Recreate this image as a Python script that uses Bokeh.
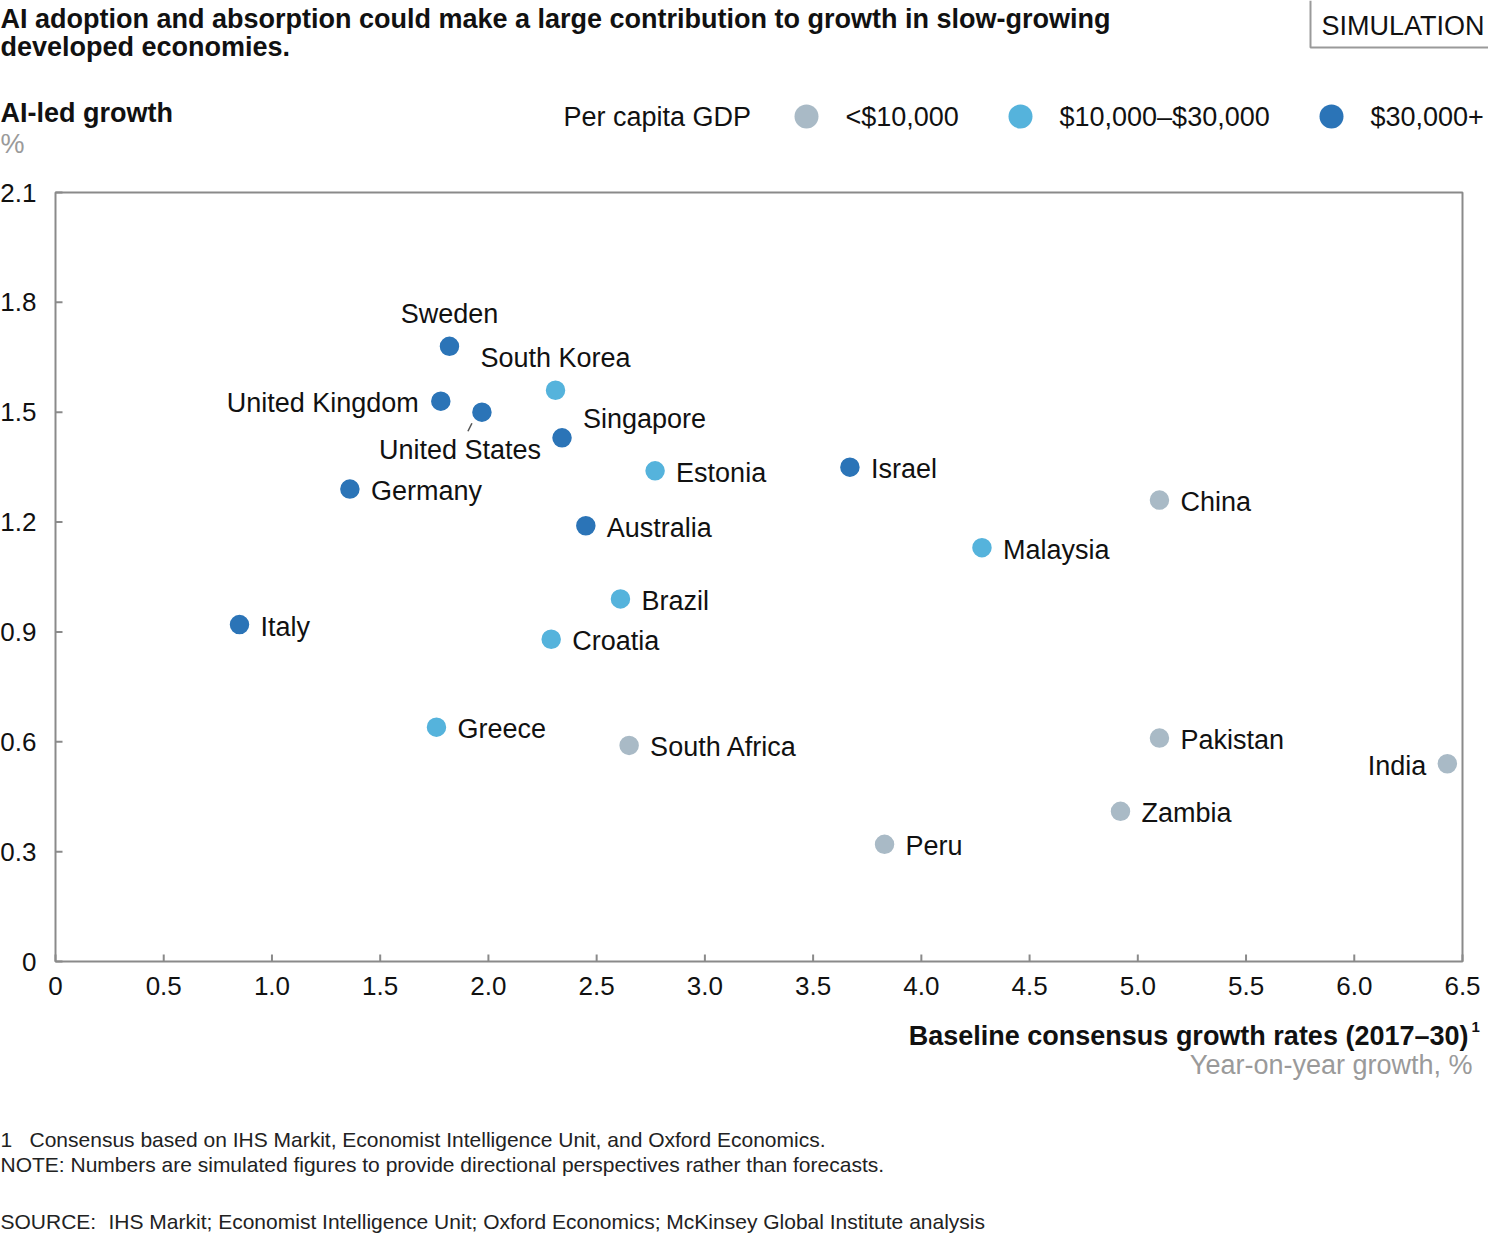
from bokeh.plotting import figure
from bokeh.models import ColumnDataSource, Range1d
from bokeh.core.properties import value, field
from bokeh.embed import file_html
from bokeh.resources import INLINE

# data
countries = ["Sweden", "South Korea", "United Kingdom", "United States", "Singapore",
             "Estonia", "Israel", "Germany", "China", "Australia", "Malaysia", "Brazil",
             "Italy", "Croatia", "Greece", "South Africa", "Pakistan", "India", "Zambia", "Peru"]
baseline_growth = [1.82, 2.31, 1.78, 1.97, 2.34, 2.77, 3.67, 1.36, 5.10, 2.45, 4.28, 2.61,
                   0.85, 2.29, 1.76, 2.65, 5.10, 6.43, 4.92, 3.83]
ai_growth = [1.68, 1.56, 1.53, 1.50, 1.43, 1.34, 1.35, 1.29, 1.26, 1.19, 1.13, 0.99,
             0.92, 0.88, 0.64, 0.59, 0.61, 0.54, 0.41, 0.32]
income_group = ["high", "mid", "high", "high", "high", "mid", "high", "high", "low", "high",
                "mid", "mid", "high", "mid", "mid", "low", "low", "low", "low", "low"]

groups = ["low", "mid", "high"]
group_labels = ["<$10,000", "$10,000–$30,000", "$30,000+"]
group_colors = ["#A9BAC6", "#55B3DC", "#2B74B7"]

x_ticks = [0, 0.5, 1.0, 1.5, 2.0, 2.5, 3.0, 3.5, 4.0, 4.5, 5.0, 5.5, 6.0, 6.5]
x_tick_labels = ["0", "0.5", "1.0", "1.5", "2.0", "2.5", "3.0", "3.5", "4.0", "4.5",
                 "5.0", "5.5", "6.0", "6.5"]
y_ticks = [0, 0.3, 0.6, 0.9, 1.2, 1.5, 1.8, 2.1]
y_tick_labels = ["0", "0.3", "0.6", "0.9", "1.2", "1.5", "1.8", "2.1"]

# label placement (align, dx, dy in px)
label_pos = {
    "Sweden": ("center", 0, -32),
    "South Korea": ("center", 0, -32),
    "United Kingdom": ("right", -22, 2),
    "United States": ("center", -22, 38),
    "Singapore": ("left", 21, -19),
    "India": ("right", -21, 2),
}

FONT = "Liberation Sans"
W, H = 1488, 1235
# where the plotting box sits on the canvas (px)
BOX_L, BOX_R, BOX_T, BOX_B = 55, 1462, 192, 961
X_MAX, Y_MAX = 6.5, 2.1
GRID = "#8a8a8a"
INK = "#111111"
GREY_TXT = "#9a9a9a"

# the frame covers the whole canvas; the ranges are chosen so that the
# data box 0..6.5 x 0..2.1 lands on BOX_*, leaving room for titles and notes
sx = (BOX_R - BOX_L) / X_MAX
sy = (BOX_B - BOX_T) / Y_MAX
x0 = -BOX_L / sx
y1 = Y_MAX + BOX_T / sy
p = figure(width=W, height=H, output_backend="svg", toolbar_location=None,
           x_range=Range1d(x0, x0 + W / sx), y_range=Range1d(y1 - H / sy, y1),
           x_axis_location=None, y_axis_location=None, min_border=0)
p.grid.visible = False
p.outline_line_color = None


def px(x):
    return x0 + x / sx


def py(y):
    return y1 - y / sy


def put(txt, x, y, size=27, bold=False, color=INK, align="left"):
    p.text(x=[px(x)], y=[py(y)], text=[txt], text_font=value(FONT),
           text_font_size=f"{size}px", text_font_style="bold" if bold else "normal",
           text_color=color, text_align=align, text_baseline="middle")


# plotting box and inward ticks
p.quad(left=[0], right=[X_MAX], bottom=[0], top=[Y_MAX], fill_color=None,
       line_color=GRID, line_width=2)
p.segment(x0=x_ticks, y0=[0] * len(x_ticks), x1=x_ticks, y1=[7 / sy] * len(x_ticks),
          line_color=GRID, line_width=2)
p.segment(x0=[0] * len(y_ticks), y0=y_ticks, x1=[7 / sx] * len(y_ticks), y1=y_ticks,
          line_color=GRID, line_width=2)
p.text(x=x_ticks, y=[0] * len(x_ticks), text=x_tick_labels, y_offset=24,
       text_align="center", text_baseline="middle", text_font=value(FONT),
       text_font_size="26px", text_color=INK)
p.text(x=[0] * len(y_ticks), y=y_ticks, text=y_tick_labels, x_offset=-19,
       text_align="right", text_baseline="middle", text_font=value(FONT),
       text_font_size="26px", text_color=INK)

# points
for g, col in zip(groups, group_colors):
    idx = [i for i, v in enumerate(income_group) if v == g]
    src = ColumnDataSource(dict(x=[baseline_growth[i] for i in idx],
                                y=[ai_growth[i] for i in idx]))
    p.scatter("x", "y", source=src, size=21, fill_color=col, line_color="white",
              line_width=1.5)

# country labels
aligns, dxs, dys = [], [], []
for c in countries:
    a, dx, dy = label_pos.get(c, ("left", 21, 2))
    aligns.append(a)
    dxs.append(dx)
    dys.append(dy)
lab_src = ColumnDataSource(dict(x=baseline_growth, y=ai_growth, name=countries,
                                align=aligns, dx=dxs, dy=dys))
p.text(x="x", y="y", text="name", source=lab_src, x_offset="dx", y_offset="dy",
       text_align=field("align"), text_baseline="middle", text_font=value(FONT),
       text_font_size="27px", text_color=INK)

# leader line for United States (offsets in px from its dot)
us = countries.index("United States")
p.segment(x0=[baseline_growth[us] - 14 / sx], y0=[ai_growth[us] - 19 / sy],
          x1=[baseline_growth[us] - 10 / sx], y1=[ai_growth[us] - 11 / sy],
          line_color="#555555", line_width=1.5)

# titles
put("AI adoption and absorption could make a large contribution to growth in slow-growing",
    0, 18, bold=True)
put("developed economies.", 0, 46, bold=True)
put("SIMULATION", 1321, 25)
p.line(x=[px(1310), px(1310), px(W)], y=[py(0), py(47), py(47)],
       line_color="#9a9a9a", line_width=2)
put("AI-led growth", 0, 112, bold=True)
put("%", 0, 143, color=GREY_TXT)

# legend
put("Per capita GDP", 563, 116)
legend_x = [806, 1020, 1331]
p.scatter(x=[px(v) for v in legend_x], y=[py(116)] * 3, size=24,
          fill_color=group_colors, line_color=None)
for lx, lab in zip(legend_x, group_labels):
    put(lab, lx + 39, 116)

# x-axis title
put("Baseline consensus growth rates (2017–30)", 1468, 1035, bold=True, align="right")
put("1", 1471, 1026, size=15, bold=True)
put("Year-on-year growth, %", 1472, 1064, color=GREY_TXT, align="right")

# notes
NOTE_INK = "#222222"
put("1", 0, 1139, size=21, color=NOTE_INK)
put("Consensus based on IHS Markit, Economist Intelligence Unit, and Oxford Economics.",
    29, 1139, size=21, color=NOTE_INK)
put("NOTE: Numbers are simulated figures to provide directional perspectives rather than forecasts.",
    0, 1164, size=21, color=NOTE_INK)
put("SOURCE:", 0, 1221, size=21, color=NOTE_INK)
put("IHS Markit; Economist Intelligence Unit; Oxford Economics; McKinsey Global Institute analysis",
    108, 1221, size=21, color=NOTE_INK)

open("out.html", "w").write(file_html(p, INLINE))
